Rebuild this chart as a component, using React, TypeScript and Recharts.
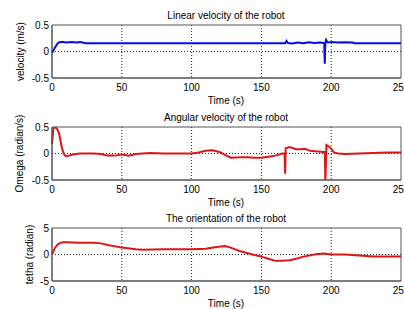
import { LineChart, Line, XAxis, YAxis, CartesianGrid, ReferenceArea, Label } from 'recharts';

const xTicks = [0, 50, 100, 150, 200, 250];

// linear velocity (m/s)
const velTime = [
  0, 1, 2, 4, 5, 6, 8, 10, 14, 18,
  20, 22, 24, 40, 80, 120, 160, 167, 168, 169,
  172, 176, 180, 184, 188, 192, 195, 195.4, 195.8, 196.3,
  197.5, 200, 205, 210, 215, 217, 250,
];
const velValues = [
  -0.03, 0.02, 0.07, 0.15, 0.17, 0.18, 0.18, 0.17, 0.18, 0.17,
  0.18, 0.17, 0.155, 0.155, 0.155, 0.155, 0.155, 0.155, 0.2, 0.16,
  0.15, 0.17, 0.155, 0.175, 0.16, 0.17, 0.16, -0.23, 0.15, 0.22,
  0.17, 0.18, 0.17, 0.175, 0.17, 0.155, 0.155,
];
const velTicks = [-0.5, 0, 0.5];

// angular velocity (radian/s)
const omegaTime = [
  0, 1, 2, 3, 4, 5, 6, 7, 8, 9,
  10, 12, 15, 20, 25, 30, 35, 40, 45, 50,
  55, 60, 70, 80, 90, 100, 105, 110, 115, 120,
  125, 128, 135, 140, 145, 150, 155, 160, 165, 166.6,
  167, 167.4, 170, 175, 178, 181, 185, 190, 195, 195.4,
  195.8, 196.6, 199, 202, 205, 210, 220, 230, 240, 250,
];
const omegaValues = [
  0.18, 0.47, 0.5, 0.48, 0.45, 0.38, 0.25, 0.12, 0.03, -0.03,
  -0.05, -0.04, -0.02, 0, 0, 0, -0.01, -0.04, -0.04, -0.02,
  -0.04, -0.01, 0.01, 0, 0, 0, 0.02, 0.05, 0.06, 0.03,
  -0.04, -0.08, -0.07, -0.07, -0.08, -0.08, -0.06, -0.04, 0, 0,
  -0.38, 0.1, 0.12, 0.08, 0.08, 0.09, 0.05, 0.04, 0.03, 0.03,
  -0.55, 0.16, 0.12, 0.02, 0, -0.01, 0, 0.01, 0.02, 0.02,
];
const omegaTicks = [-0.5, 0, 0.5];

// orientation (radian)
const thetaTime = [
  0, 2, 4, 6, 8, 10, 20, 30, 35, 40,
  50, 60, 65, 80, 100, 110, 118, 124, 128, 135,
  145, 150, 155, 160, 165, 170, 175, 180, 190, 195,
  200, 210, 220, 230, 250,
];
const thetaValues = [
  0, 1.2, 1.9, 2.2, 2.3, 2.3, 2.2, 2.2, 2.1, 1.8,
  1.3, 1.0, 0.9, 1.0, 1.0, 1.1, 1.4, 1.6, 1.3, 0.6,
  -0.1, -0.4, -0.8, -1.2, -1.2, -1.1, -0.8, -0.4, 0.1, 0.2,
  0.0, 0.0, -0.2, -0.4, -0.4,
];
const thetaTicks = [-5, 0, 5];

const font = '"Liberation Sans", Arial, sans-serif';
const W = 404;
const H = 309;

const toRows = (t: number[], v: number[]) => t.map((time, i) => ({ time, value: v[i] }));

type PanelProps = {
  rows: { time: number; value: number }[];
  color: string;
  ticks: number[];
  top: number;
  bottom: number;
  title: string;
  yLabel: string;
  yLabelX: number;
};

const Panel = ({ rows, color, ticks, top, bottom, title, yLabel, yLabelX }: PanelProps) => {
  const lo = ticks[0];
  const hi = ticks[ticks.length - 1];
  const mid = (top + bottom) / 2;
  const texts = () => (
    <g fontFamily={font} fontSize={10} fill="#000">
      <text x={226} y={top - 10} textAnchor="middle" dominantBaseline="central">{title}</text>
      <text x={226} y={bottom + 22.5} textAnchor="middle" dominantBaseline="central">Time (s)</text>
      <text
        x={yLabelX}
        y={mid}
        textAnchor="middle"
        dominantBaseline="central"
        transform={`rotate(-90 ${yLabelX} ${mid})`}
      >
        {yLabel}
      </text>
    </g>
  );
  return (
    <div style={{ position: 'absolute', left: 0, top: 0 }}>
      <LineChart
        width={W}
        height={H}
        data={rows}
        margin={{ top, right: 3, left: 12, bottom: H - bottom - 20 }}
      >
        <CartesianGrid stroke="#222" strokeDasharray="1 2" horizontalValues={[0]} verticalValues={[50, 100, 150, 200]} />
        <XAxis
          dataKey="time"
          type="number"
          domain={[0, 250]}
          ticks={xTicks}
          interval={0}
          height={20}
          tickLine={false}
          tickSize={0}
          tickMargin={6}
          axisLine={{ stroke: '#555' }}
          tick={{ fill: '#000', fontSize: 10, fontFamily: font }}
        >
          <Label content={texts} />
        </XAxis>
        <YAxis
          type="number"
          domain={[lo, hi]}
          ticks={ticks}
          interval={0}
          allowDataOverflow
          width={40}
          tickLine={false}
          tickSize={0}
          tickMargin={3}
          axisLine={{ stroke: '#555' }}
          tick={{ fill: '#000', fontSize: 10, fontFamily: font }}
        />
        <ReferenceArea x1={0} x2={250} y1={lo} y2={hi} fill="none" stroke="#555" strokeWidth={1} />
        <Line
          dataKey="value"
          type="linear"
          stroke={color}
          strokeWidth={2}
          dot={false}
          isAnimationActive={false}
        />
      </LineChart>
    </div>
  );
};

const App = () => (
  <div style={{ position: 'absolute', left: 0, top: 0, width: W, height: H, background: '#fff' }}>
    <Panel
      rows={toRows(velTime, velValues)}
      color="#0a0ae6"
      ticks={velTicks}
      top={25}
      bottom={78}
      title="Linear velocity of the robot"
      yLabel="velocity (m/s)"
      yLabelX={20}
    />
    <Panel
      rows={toRows(omegaTime, omegaValues)}
      color="#e01414"
      ticks={omegaTicks}
      top={127}
      bottom={180}
      title="Angular velocity of the robot"
      yLabel="Omega (radian/s)"
      yLabelX={19}
    />
    <Panel
      rows={toRows(thetaTime, thetaValues)}
      color="#e01414"
      ticks={thetaTicks}
      top={228}
      bottom={281}
      title="The orientation of the robot"
      yLabel="tetha (radian)"
      yLabelX={29}
    />
  </div>
);

export default App;
